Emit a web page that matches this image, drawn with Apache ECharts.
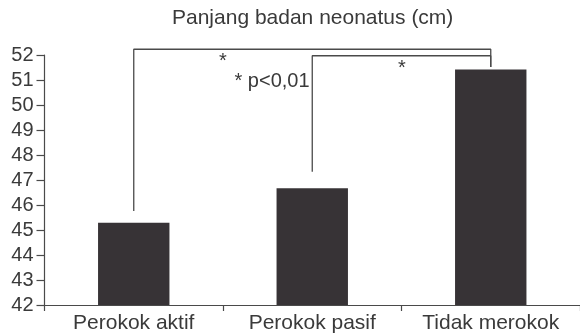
<!DOCTYPE html>
<html>
<head>
<meta charset="utf-8">
<script src="https://cdn.jsdelivr.net/npm/echarts@6/dist/echarts.min.js"></script>
<style>
html,body{margin:0;padding:0;background:#fff;}
#chart{width:580px;height:334px;}
</style>
</head>
<body>
<div id="chart"></div>
<script>
// Data
var categories = ['Perokok aktif', 'Perokok pasif', 'Tidak merokok'];
var lengthValues = [45.29, 46.67, 51.42];
var yMin = 42, yMax = 52, yInterval = 1;
var titleText = 'Panjang badan neonatus (cm)';
// significance brackets: [category index, value] polylines
var bracketOuter = [[0, 45.76], [0, 52.23], [2, 52.23], [2, 51.52]];
var bracketInner = [[1, 47.33], [1, 51.97], [2, 51.97], [2, 51.52]];
var noteText = '* p<0,01';
var starText = '*';

var textColor = '#3a3a3a';
var lineColor = '#4a4a4a';
var font = 'Liberation Sans, Arial, sans-serif';

var chart = echarts.init(document.getElementById('chart'), null, {renderer: 'canvas'});
var option = {
  animation: false,
  backgroundColor: '#fff',
  title: {
    text: titleText,
    left: 172, top: 8, padding: 0,
    textStyle: {fontFamily: font, fontSize: 21, fontWeight: 'normal', color: textColor}
  },
  grid: {left: 44.5, right: -3.5, top: 55, bottom: 29, containLabel: false},
  xAxis: {
    type: 'category',
    data: categories,
    boundaryGap: true,
    axisLine: {show: true, lineStyle: {color: lineColor, width: 1.2}},
    axisTick: {show: true, length: 6, inside: false, lineStyle: {color: lineColor, width: 1.2}},
    axisLabel: {fontFamily: font, fontSize: 21, color: textColor, margin: 8, interval: 0}
  },
  yAxis: {
    type: 'value',
    min: yMin, max: yMax, interval: yInterval,
    splitLine: {show: false},
    axisLine: {show: true, lineStyle: {color: lineColor, width: 1.2}},
    axisTick: {show: true, length: 8, inside: false, lineStyle: {color: lineColor, width: 1.2}},
    axisLabel: {fontFamily: font, fontSize: 20, color: textColor, margin: 11}
  },
  series: [
    {
      type: 'bar',
      data: lengthValues,
      barWidth: '40%',
      itemStyle: {color: '#373336'},
      z: 2
    },
    {
      type: 'line',
      data: bracketOuter,
      symbol: 'none',
      clip: false,
      lineStyle: {color: lineColor, width: 1.3},
      z: 3
    },
    {
      type: 'line',
      data: bracketInner,
      symbol: 'none',
      clip: false,
      lineStyle: {color: lineColor, width: 1.3},
      z: 3
    }
  ],
  graphic: [
    {type: 'text', left: 219, top: 51, style: {text: starText, font: '20px ' + font, fill: textColor}},
    {type: 'text', left: 398, top: 58, style: {text: starText, font: '20px ' + font, fill: textColor}},
    {type: 'text', left: 234.5, top: 71, style: {text: noteText, font: '20px ' + font, fill: textColor}}
  ]
};
chart.setOption(option);
</script>
</body>
</html>
